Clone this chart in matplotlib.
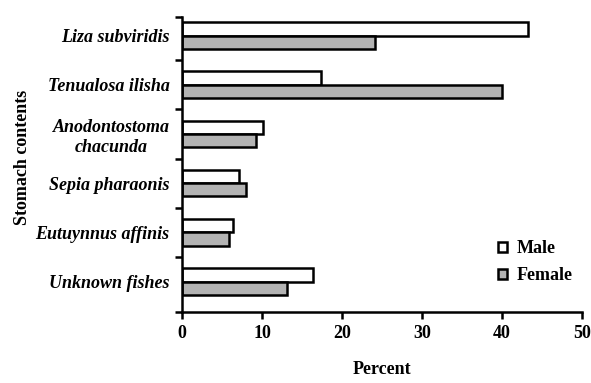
import matplotlib
matplotlib.use("Agg")
import matplotlib.pyplot as plt
import numpy as np

# stomach contents, top to bottom
categories = ["Liza subviridis", "Tenualosa ilisha", "Anodontostoma\nchacunda",
              "Sepia pharaonis", "Eutuynnus affinis", "Unknown fishes"]
male = [43.2, 17.4, 10.1, 7.1, 6.4, 16.4]
female = [24.1, 40.0, 9.3, 8.0, 5.9, 13.1]
xticks = [0, 10, 20, 30, 40, 50]

plt.rcParams['font.family'] = ['Liberation Serif', 'DejaVu Serif']
plt.rcParams['font.weight'] = 'bold'

fig = plt.figure(figsize=(5.91, 3.83), dpi=100)
ax = fig.add_axes([0.308, 0.185, 0.677, 0.771])

centers = np.arange(len(categories)) + 0.38
h = 0.27
ax.barh(centers - h / 2, male, height=h, color='white', edgecolor='black',
        linewidth=1.8, label='Male')
ax.barh(centers + h / 2, female, height=h, color='#b3b3b3', edgecolor='black',
        linewidth=1.8, label='Female')

ax.set_ylim(len(categories), 0)
ax.set_xlim(0, 50)

# boundary ticks (no labels) and category labels at centers
bounds = np.concatenate([[0], centers[:-1] + 0.5, [len(categories)]])
ax.set_yticks(bounds)
ax.set_yticklabels([])
ax.set_yticks(centers, minor=True)
ax.set_yticklabels(categories, minor=True, fontstyle='italic', fontsize=13,
                   fontweight='bold', multialignment='center')
ax.tick_params(axis='y', which='minor', length=0, pad=9)
ax.tick_params(axis='y', which='major', length=5, width=1.8)

ax.set_xticks(xticks)
ax.set_xticklabels([str(t) for t in xticks], fontsize=13, fontweight='bold')
ax.tick_params(axis='x', length=5, width=1.8, pad=4)

for s in ['top', 'right']:
    ax.spines[s].set_visible(False)
for s in ['left', 'bottom']:
    ax.spines[s].set_linewidth(1.8)

ax.set_xlabel('Percent', fontsize=13, fontweight='bold', labelpad=14)
ax.set_ylabel('Stomach contents', fontsize=13, fontweight='bold')
ax.yaxis.set_label_coords(-0.378, 0.525)

leg = ax.legend(loc='lower left', bbox_to_anchor=(0.75, 0.04), frameon=False,
                prop={'size': 13, 'weight': 'bold'}, handlelength=0.5,
                handleheight=0.5, handletextpad=0.5, labelspacing=0.55)
for p in leg.get_patches():
    p.set_linewidth(1.8)

fig.savefig('out.png', dpi=100)
